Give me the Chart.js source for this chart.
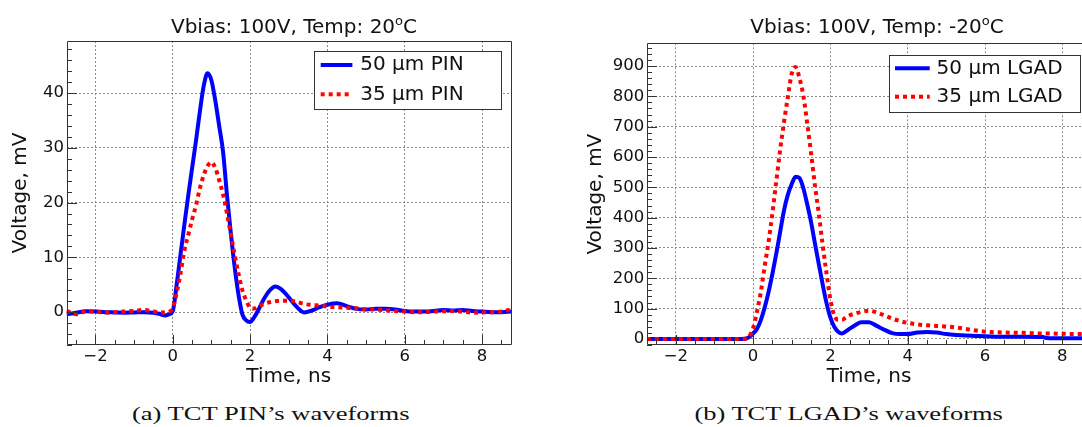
<!DOCTYPE html>
<html>
<head>
<meta charset="utf-8">
<script src="https://cdn.jsdelivr.net/npm/chart.js@4.4.0/dist/chart.umd.min.js"></script>
<style>
html,body{margin:0;padding:0;background:#fff;width:1082px;height:427px;overflow:hidden;position:relative}
canvas{position:absolute;top:0}
.ttl{position:absolute;width:600px;text-align:center;font-family:"DejaVu Sans",sans-serif;font-size:20px;line-height:20px;color:#111;white-space:nowrap}
.ttl .sup{font-size:13px;position:relative;top:-8px}
.cap{position:absolute;font-family:"Liberation Serif","Times New Roman",serif;font-size:19.5px;line-height:20px;color:#111;white-space:nowrap;transform-origin:50% 50%}
</style>
</head>
<body>
<canvas id="c1" width="540" height="395" style="left:0px"></canvas>
<canvas id="c2" width="560" height="395" style="left:540px"></canvas>
<div class="ttl" id="t1" style="left:-6px;top:16.4px">Vbias: 100V, Temp: 20<span class="sup">o</span>C</div>
<div class="ttl" id="t2" style="left:577px;top:16.4px">Vbias: 100V, Temp: -20<span class="sup">o</span>C</div>
<span class="cap" id="capA" style="top:404.4px">(a) TCT PIN’s waveforms</span>
<span class="cap" id="capB" style="top:404.4px">(b) TCT LGAD’s waveforms</span>
<script>
// ---------------- data ----------------
const T_PIN = [-2.75,-2.5,-2.25,-2.0,-1.75,-1.5,-1.25,-1.0,-0.75,-0.5,-0.35,-0.2,-0.1,
  0.0,0.1,0.2,0.3,0.4,0.5,0.6,0.7,0.8,0.9,1.0,1.1,1.2,1.3,1.4,1.5,1.6,1.7,1.8,1.9,2.0,2.1,2.2,
  2.35,2.5,2.65,2.8,3.0,3.2,3.4,3.6,3.8,4.0,4.25,4.5,4.75,5.0,5.25,5.5,5.75,6.0,6.25,6.5,6.75,7.0,7.25,7.5,7.75,8.0,8.25,8.5,8.75];
const PIN_50 = [-0.4,-0.1,0.15,0.1,0.0,-0.05,-0.1,-0.05,0.0,-0.1,-0.3,-0.6,-0.4,
  0.2,5.0,10.5,16.0,21.3,26.3,31.3,36.6,41.3,43.6,42.3,38.6,34.0,29.3,21.5,14.5,8.3,3.2,-0.4,-1.5,-1.8,-1.0,0.2,
  2.3,3.9,4.7,4.2,2.7,1.0,-0.05,0.3,0.9,1.35,1.6,1.1,0.6,0.5,0.6,0.6,0.5,0.2,0.1,0.1,0.2,0.4,0.3,0.4,0.2,0.1,0.0,0.0,0.1];
const PIN_35 = [0.3,-0.4,0.1,0.1,-0.1,0.0,0.1,0.2,0.4,0.1,0.0,-0.1,0.0,
  0.8,3.5,7.1,11.3,14.1,16.9,19.5,22.6,25.0,26.7,27.4,26.3,24.1,21.5,18.1,14.3,10.5,7.0,4.0,2.1,0.85,0.65,1.0,
  1.5,1.8,2.0,2.1,2.1,1.9,1.5,1.3,1.2,1.0,0.9,0.8,0.7,0.5,0.45,0.35,0.2,0.1,0.0,0.0,0.1,0.15,0.2,0.1,-0.1,-0.05,0.0,0.1,0.5];

const T_LGAD = [-2.75,-2.0,-1.0,-0.5,-0.2,-0.1,
  0.0,0.1,0.2,0.3,0.4,0.5,0.6,0.7,0.8,0.9,1.0,1.1,1.2,1.3,1.4,1.5,1.6,1.7,1.8,1.9,2.0,2.1,2.2,2.3,2.4,2.5,
  2.65,2.8,3.0,3.2,3.4,3.6,3.8,4.0,4.25,4.5,4.75,5.0,5.25,5.5,5.75,6.0,6.5,7.0,7.5,7.6,8.0,8.5,8.75];
const LGAD_50 = [0,0,0,0,1,6,
  18,33,62,104,155,215,281,353,424,476,511,535,531,497,444,385,315,247,180,118,70,40,24,18,25,34,
  46,55,55,43,30,19,16,16,21,23,21,16,13,11,10,9,7,7,6,3,2,2,2];
const LGAD_35 = [0,0,0,0,1,8,
  36,90,155,240,320,415,520,623,715,799,875,897,860,802,711,612,506,413,310,216,130,78,63,63,71,78,
  84,89,93,87,78,67,59,53,48,45,43,41,38,33,28,24,21,20,18,18,17,16,16];

const X_TICKS = [-2,0,2,4,6,8];
const Y_TICKS_PIN = [0,10,20,30,40];
const Y_TICKS_LGAD = [0,100,200,300,400,500,600,700,800,900];
const LABELS_PIN = ['50 \u03bcm PIN','35 \u03bcm PIN'];
const LABELS_LGAD = ['50 \u03bcm LGAD','35 \u03bcm LGAD'];

// ---------------- styling ----------------
const FONT = '"DejaVu Sans", sans-serif';
const BLUE = '#0000ff', RED = '#ff0000', INK = '#111111', GRID = '#8a8a8a', FRAME = '#333333';

function pts(t, v) { return t.map((x, i) => ({x: x, y: v[i]})); }
function fmt(v) { return v < 0 ? '\u2212' + Math.abs(v) : String(v); }
function isMult(v, s) { return Math.abs(v / s - Math.round(v / s)) < 1e-6; }

const rootFrame = {
  id: 'rootFrame',
  afterDatasetsDraw(chart, args, o) {
    const ctx = chart.ctx, a = chart.chartArea, xs = chart.scales.x, ys = chart.scales.y;
    ctx.save();
    ctx.strokeStyle = FRAME; ctx.lineWidth = 1; ctx.setLineDash([]);
    ctx.beginPath();
    ctx.rect(Math.round(a.left) + 0.5, Math.round(a.top) + 0.5, Math.round(a.right - a.left) - 1, Math.round(a.bottom - a.top) - 1);
    // x ticks (inside, bottom)
    const xb = Math.round(a.bottom);
    for (let v = Math.ceil(xs.min / o.xMinor) * o.xMinor; v <= xs.max + 1e-9; v += o.xMinor) {
      const px = Math.round(xs.getPixelForValue(v)) + 0.5;
      const len = isMult(v, o.xMajor) ? o.majorLen : o.minorLen;
      ctx.moveTo(px, xb); ctx.lineTo(px, xb - len);
    }
    // y ticks (inside, left)
    const yl = Math.round(a.left);
    for (let v = Math.ceil(ys.min / o.yMinor) * o.yMinor; v <= ys.max + 1e-9; v += o.yMinor) {
      const py = Math.round(ys.getPixelForValue(v)) + 0.5;
      const len = isMult(v, o.yMajor) ? o.majorLen : o.minorLen;
      ctx.moveTo(yl, py); ctx.lineTo(yl + len, py);
    }
    ctx.stroke();
    // legend box
    const L = o.legend;
    ctx.fillStyle = '#ffffff';
    ctx.fillRect(L.x, L.y, L.w, L.h);
    ctx.strokeStyle = FRAME; ctx.lineWidth = 1;
    ctx.strokeRect(L.x + 0.5, L.y + 0.5, L.w, L.h);
    chart.data.datasets.forEach((ds, i) => {
      const cy = L.rows[i];
      ctx.beginPath();
      ctx.strokeStyle = ds.borderColor; ctx.lineWidth = ds.borderWidth;
      ctx.setLineDash(ds.borderDash || []);
      ctx.lineCap = 'butt';
      ctx.moveTo(L.sx0, cy); ctx.lineTo(L.sx1, cy);
      ctx.stroke();
      ctx.setLineDash([]);
      ctx.fillStyle = INK;
      ctx.font = '20px ' + FONT;
      ctx.textBaseline = 'middle'; ctx.textAlign = 'left';
      ctx.fillText(ds.label, L.tx, cy);
    });
    ctx.restore();
  }
};

function makeChart(id, c) {
  return new Chart(document.getElementById(id), {
    type: 'line',
    data: {
      datasets: [
        {label: c.labels[0], data: pts(c.t, c.v50), borderColor: BLUE, borderWidth: 4, order: 1},
        {label: c.labels[1], data: pts(c.t, c.v35), borderColor: RED, borderWidth: 4, borderDash: [4, 4], order: 0}
      ]
    },
    options: {
      responsive: false, animation: false, events: [],
      layout: {padding: c.pad},
      elements: {point: {radius: 0}, line: {cubicInterpolationMode: 'monotone', borderJoinStyle: 'round', fill: false}},
      plugins: {legend: {display: false}, tooltip: {enabled: false}, title: {display: false}, rootFrame: c.frame},
      scales: {
        x: {
          type: 'linear', min: -2.75, max: 8.75,
          afterBuildTicks: s => { s.ticks = X_TICKS.map(v => ({value: v})); },
          afterFit: s => { s.height = c.xH; },
          grid: {color: GRID, lineWidth: 1, drawTicks: false},
          border: {display: false, dash: [2, 2]},
          ticks: {font: {family: FONT, size: 16.5}, color: INK, padding: 2, autoSkip: false, maxRotation: 0, callback: v => fmt(v)},
          title: {display: true, text: 'Time, ns', font: {family: FONT, size: 20}, color: INK, padding: {top: 0, bottom: 6.6}}
        },
        y: {
          type: 'linear', min: c.yMin, max: c.yMax,
          afterBuildTicks: s => { s.ticks = c.yTicks.map(v => ({value: v})); },
          afterFit: s => { s.width = c.yW; },
          grid: {color: GRID, lineWidth: 1, drawTicks: false},
          border: {display: false, dash: [2, 2]},
          ticks: {font: {family: FONT, size: 16.5}, color: INK, padding: 2.5, callback: v => fmt(v)},
          title: {display: true, text: 'Voltage, mV', font: {family: FONT, size: 20}, color: INK, padding: {top: c.yTitlePad, bottom: 0}}
        }
      }
    },
    plugins: [rootFrame]
  });
}

makeChart('c1', {
  t: T_PIN, v50: PIN_50, v35: PIN_35, labels: LABELS_PIN,
  yMin: -6, yMax: 49.5, yTicks: Y_TICKS_PIN,
  pad: {left: 0, top: 41, right: 29, bottom: 0}, yW: 66.5, xH: 50, yTitlePad: 8.3,
  frame: {xMinor: 0.5, xMajor: 2, yMinor: 2, yMajor: 10, majorLen: 10, minorLen: 5,
    legend: {x: 314, y: 51, w: 187, h: 58, rows: [65, 94.3], sx0: 320.7, sx1: 352.4, tx: 360.3}}
});
makeChart('c2', {
  t: T_LGAD, v50: LGAD_50, v35: LGAD_35, labels: LABELS_LGAD,
  yMin: -20, yMax: 975, yTicks: Y_TICKS_LGAD,
  pad: {left: 0, top: 43.3, right: 8.7, bottom: 0}, yW: 106.8, xH: 50, yTitlePad: 44,
  frame: {xMinor: 0.5, xMajor: 2, yMinor: 20, yMajor: 100, majorLen: 10, minorLen: 5,
    legend: {x: 349, y: 55, w: 191, h: 57, rows: [68.3, 96.7], sx0: 355, sx1: 389.7, tx: 396.6}}
});

// captions: centre and fit width
function placeCap(id, centre, width) {
  const el = document.getElementById(id);
  const w = el.offsetWidth;
  el.style.left = (centre - w / 2) + 'px';
  el.style.transform = 'scaleX(' + (width / w) + ')';
}
placeCap('capA', 270, 277);
placeCap('capB', 848, 308);
</script>
</body>
</html>
